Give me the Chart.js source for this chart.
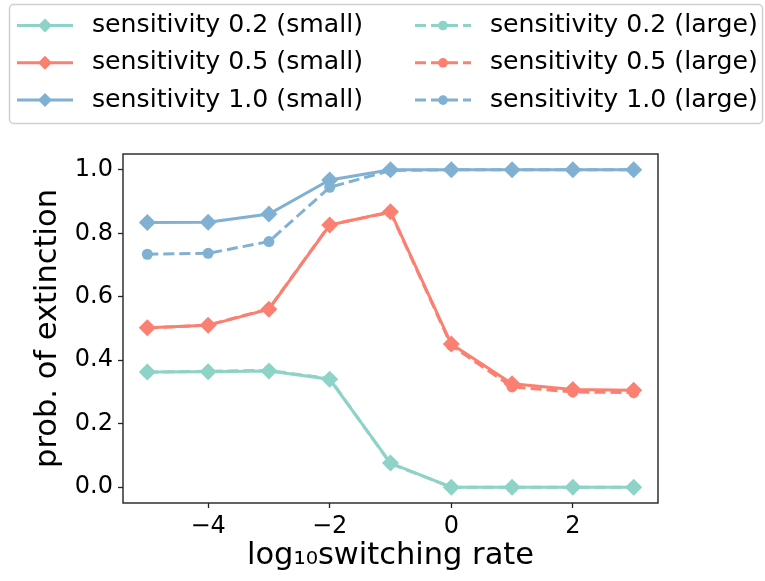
<!DOCTYPE html>
<html>
<head>
<meta charset="utf-8">
<script src="https://cdn.jsdelivr.net/npm/chart.js@4/dist/chart.umd.min.js"></script>
<style>
  html, body { margin: 0; padding: 0; background: #fff; }
  #chart { display: block; }
</style>
</head>
<body>
<canvas id="chart" width="765" height="581"></canvas>
<script>
// data
var rates = [-5, -4, -3, -2, -1, 0, 1, 2, 3]
var small02 = [0.363, 0.364, 0.366, 0.340, 0.076, 0.0, 0.0, 0.0, 0.0]
var small05 = [0.502, 0.510, 0.561, 0.826, 0.868, 0.451, 0.326, 0.308, 0.305]
var small10 = [0.834, 0.835, 0.861, 0.968, 1.0, 1.0, 1.0, 1.0, 1.0]
var large02 = [0.362, 0.365, 0.368, 0.342, 0.074, 0.0, 0.0, 0.0, 0.0]
var large05 = [0.501, 0.511, 0.562, 0.827, 0.866, 0.447, 0.316, 0.300, 0.298]
var large10 = [0.734, 0.737, 0.774, 0.945, 0.998, 1.0, 1.0, 1.0, 1.0]
var xTicks = [-4, -2, 0, 2]
var yTicks = [0.0, 0.2, 0.4, 0.6, 0.8, 1.0]

var teal = '#8dd3c7'
var red = '#fb8072'
var blue = '#80b1d3'

function points(ys) {
    return rates.map(function (x, i) { return { x: x, y: ys[i] } })
}

function series(label, ys, color, large) {
    return {
        label: label,
        data: points(ys),
        borderColor: color,
        backgroundColor: color,
        borderWidth: 3,
        borderDash: large ? [11, 5] : [],
        pointStyle: large ? 'circle' : 'rectRot',
        pointRadius: large ? 5.5 : 8.5,
        pointBorderWidth: 0,
        pointBackgroundColor: color,
        tension: 0,
        order: large ? 0 : 1
    }
}

// legend drawn matplotlib style: two columns inside a framed box
var boxLegend = {
    id: 'boxLegend',
    afterDraw: function (chart) {
        var ctx = chart.ctx
        ctx.save()
        ctx.beginPath()
        ctx.roundRect(9.5, 4.5, 753, 119, 4)
        ctx.fillStyle = 'rgba(255,255,255,0.8)'
        ctx.fill()
        ctx.strokeStyle = '#d0d0d0'
        ctx.lineWidth = 1.5
        ctx.stroke()

        ctx.font = '25.2px "DejaVu Sans"'
        ctx.textBaseline = 'middle'
        chart.data.datasets.forEach(function (ds, i) {
            var col = i < 3 ? 0 : 1
            var row = i % 3
            var x0 = col == 0 ? 17 : 415
            var y = 25.5 + row * 37.3
            ctx.strokeStyle = ds.borderColor
            ctx.lineWidth = 3
            ctx.setLineDash(ds.borderDash)
            ctx.beginPath()
            ctx.moveTo(x0, y)
            ctx.lineTo(x0 + 56, y)
            ctx.stroke()
            ctx.setLineDash([])
            ctx.fillStyle = ds.borderColor
            ctx.beginPath()
            if (ds.pointStyle == 'circle') {
                ctx.arc(x0 + 28, y, 4.8, 0, Math.PI * 2)
            } else {
                ctx.moveTo(x0 + 28 - 7, y)
                ctx.lineTo(x0 + 28, y - 7)
                ctx.lineTo(x0 + 28 + 7, y)
                ctx.lineTo(x0 + 28, y + 7)
                ctx.closePath()
            }
            ctx.fill()
            ctx.fillStyle = '#000'
            ctx.fillText(ds.label, x0 + 75, y)
        })
        ctx.restore()
    }
}

// the four spines
var frame = {
    id: 'frame',
    afterDatasetsDraw: function (chart) {
        var a = chart.chartArea
        var ctx = chart.ctx
        ctx.save()
        ctx.strokeStyle = '#222'
        ctx.lineWidth = 1.4
        ctx.strokeRect(a.left, a.top, a.right - a.left, a.bottom - a.top)
        ctx.restore()
    }
}

Chart.defaults.font.family = '"DejaVu Sans"'
Chart.defaults.color = '#000'

var ctx = document.getElementById('chart').getContext('2d')
var chart = new Chart(ctx, {
    type: 'line',
    data: {
        datasets: [
            series('sensitivity 0.2 (small)', small02, teal, false),
            series('sensitivity 0.5 (small)', small05, red, false),
            series('sensitivity 1.0 (small)', small10, blue, false),
            series('sensitivity 0.2 (large)', large02, teal, true),
            series('sensitivity 0.5 (large)', large05, red, true),
            series('sensitivity 1.0 (large)', large10, blue, true)
        ]
    },
    options: {
        responsive: false,
        animation: false,
        layout: { padding: { top: 154, right: 107, left: 20, bottom: 0 } },
        plugins: {
            legend: { display: false },
            tooltip: { enabled: false }
        },
        scales: {
            x: {
                type: 'linear',
                min: -5.4,
                max: 3.4,
                afterBuildTicks: function (scale) {
                    scale.ticks = xTicks.map(function (v) { return { value: v } })
                },
                afterFit: function (scale) { scale.height = 78 },
                ticks: {
                    font: { size: 24 },
                    padding: 4,
                    maxRotation: 0,
                    callback: function (v) { return String(v).replace('-', '\u2212') }
                },
                grid: { drawOnChartArea: false, drawTicks: true, tickLength: 5, tickColor: '#222', tickWidth: 1.3 },
                border: { display: false },
                title: {
                    display: true,
                    text: 'log\u2081\u2080switching rate',
                    font: { size: 30.5 },
                    padding: { top: 0, bottom: 7 }
                }
            },
            y: {
                min: -0.05,
                max: 1.05,
                afterBuildTicks: function (scale) {
                    scale.ticks = yTicks.map(function (v) { return { value: v } })
                },
                afterFit: function (scale) { scale.width = 103 },
                ticks: {
                    font: { size: 24 },
                    padding: 5,
                    callback: function (v) { return v.toFixed(1) }
                },
                grid: { drawOnChartArea: false, drawTicks: true, tickLength: 5, tickColor: '#222', tickWidth: 1.3 },
                border: { display: false },
                title: {
                    display: true,
                    text: 'prob. of extinction',
                    font: { size: 30.5 },
                    padding: { top: 10, bottom: 0 }
                }
            }
        }
    },
    plugins: [frame, boxLegend]
})
</script>
</body>
</html>
